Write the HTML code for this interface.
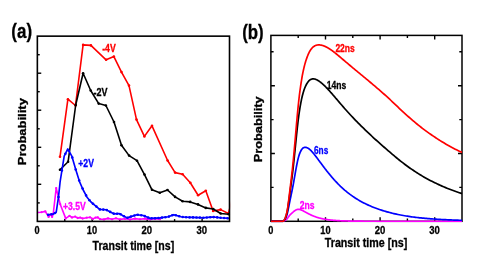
<!DOCTYPE html>
<html><head><meta charset="utf-8"><title>Transit time probability</title>
<style>html,body{margin:0;padding:0;background:#fff;}svg{display:block;}text{font-family:"Liberation Sans",sans-serif;font-weight:bold;stroke-width:0.3px;}</style>
</head><body>
<svg style="will-change:transform" width="491" height="273" viewBox="0 0 491 273">
<rect x="0" y="0" width="491" height="273" fill="#ffffff"/>
<defs>
<clipPath id="ca"><rect x="37.35" y="36.15" width="192.75" height="185.25"/></clipPath>
<clipPath id="cb"><rect x="270.9" y="35.4" width="191.70000000000002" height="186.9"/></clipPath>
</defs>
<g id="panel-a">
<g stroke="#000" fill="none">
<path d="M37.35,54.7 h2.4" stroke-width="1.4" stroke-linecap="butt"/>
<path d="M37.35,73.2 h3.9" stroke-width="1.4" stroke-linecap="butt"/>
<path d="M37.35,91.7 h2.4" stroke-width="1.4" stroke-linecap="butt"/>
<path d="M37.35,110.2 h3.9" stroke-width="1.4" stroke-linecap="butt"/>
<path d="M37.35,128.8 h2.4" stroke-width="1.4" stroke-linecap="butt"/>
<path d="M37.35,147.3 h3.9" stroke-width="1.4" stroke-linecap="butt"/>
<path d="M37.35,165.8 h2.4" stroke-width="1.4" stroke-linecap="butt"/>
<path d="M37.35,184.3 h3.9" stroke-width="1.4" stroke-linecap="butt"/>
<path d="M37.35,202.9 h2.4" stroke-width="1.4" stroke-linecap="butt"/>
<path d="M64.8,221.4 v-2.3" stroke-width="1.4" stroke-linecap="butt"/>
<path d="M92.2,221.4 v-3.2" stroke-width="1.4" stroke-linecap="butt"/>
<path d="M119.7,221.4 v-2.3" stroke-width="1.4" stroke-linecap="butt"/>
<path d="M147.2,221.4 v-3.2" stroke-width="1.4" stroke-linecap="butt"/>
<path d="M174.6,221.4 v-2.3" stroke-width="1.4" stroke-linecap="butt"/>
<path d="M202.1,221.4 v-3.2" stroke-width="1.4" stroke-linecap="butt"/>
</g>
<g clip-path="url(#ca)" fill="none" stroke-linejoin="round" stroke-linecap="round">
<path d="M37.30,212.50 L41.50,212.20 L45.30,211.40 L48.60,216.90 L50.50,214.30 L52.10,216.90 L53.20,214.00 L56.20,188.10 L60.20,204.20 L65.70,218.40 L69.50,215.80 L72.00,217.50 L75.20,216.60 L77.70,218.00 L80.20,217.60 L82.60,218.50 L86.70,217.70 L90.00,217.30 L93.00,218.90 L95.50,217.60 L97.80,217.40 L100.00,219.20 L104.00,219.40 L108.00,218.40 L112.00,219.30 L116.00,218.30 L120.00,219.40 L125.00,218.70 L130.00,219.50 L135.00,218.60 L140.00,219.30 L145.00,218.60 L150.00,219.40 L155.00,218.80 L160.00,219.30" stroke="#ff00ff" stroke-width="1.6"/>
<circle cx="37.3" cy="212.5" r="1.15" fill="#ff00ff"/><circle cx="41.5" cy="212.2" r="1.15" fill="#ff00ff"/><circle cx="45.3" cy="211.4" r="1.15" fill="#ff00ff"/><circle cx="48.6" cy="216.9" r="1.15" fill="#ff00ff"/><circle cx="50.5" cy="214.3" r="1.15" fill="#ff00ff"/><circle cx="52.1" cy="216.9" r="1.15" fill="#ff00ff"/><circle cx="53.2" cy="214.0" r="1.15" fill="#ff00ff"/><circle cx="56.2" cy="188.1" r="1.15" fill="#ff00ff"/><circle cx="60.2" cy="204.2" r="1.15" fill="#ff00ff"/><circle cx="65.7" cy="218.4" r="1.15" fill="#ff00ff"/><circle cx="69.5" cy="215.8" r="1.15" fill="#ff00ff"/><circle cx="72.0" cy="217.5" r="1.15" fill="#ff00ff"/><circle cx="75.2" cy="216.6" r="1.15" fill="#ff00ff"/><circle cx="77.7" cy="218.0" r="1.15" fill="#ff00ff"/><circle cx="80.2" cy="217.6" r="1.15" fill="#ff00ff"/><circle cx="82.6" cy="218.5" r="1.15" fill="#ff00ff"/><circle cx="86.7" cy="217.7" r="1.15" fill="#ff00ff"/><circle cx="90.0" cy="217.3" r="1.15" fill="#ff00ff"/><circle cx="93.0" cy="218.9" r="1.15" fill="#ff00ff"/><circle cx="95.5" cy="217.6" r="1.15" fill="#ff00ff"/><circle cx="97.8" cy="217.4" r="1.15" fill="#ff00ff"/><circle cx="100.0" cy="219.2" r="1.15" fill="#ff00ff"/><circle cx="104.0" cy="219.4" r="1.15" fill="#ff00ff"/><circle cx="108.0" cy="218.4" r="1.15" fill="#ff00ff"/><circle cx="112.0" cy="219.3" r="1.15" fill="#ff00ff"/><circle cx="116.0" cy="218.3" r="1.15" fill="#ff00ff"/><circle cx="120.0" cy="219.4" r="1.15" fill="#ff00ff"/><circle cx="125.0" cy="218.7" r="1.15" fill="#ff00ff"/><circle cx="130.0" cy="219.5" r="1.15" fill="#ff00ff"/><circle cx="135.0" cy="218.6" r="1.15" fill="#ff00ff"/><circle cx="140.0" cy="219.3" r="1.15" fill="#ff00ff"/><circle cx="145.0" cy="218.6" r="1.15" fill="#ff00ff"/><circle cx="150.0" cy="219.4" r="1.15" fill="#ff00ff"/><circle cx="155.0" cy="218.8" r="1.15" fill="#ff00ff"/><circle cx="160.0" cy="219.3" r="1.15" fill="#ff00ff"/>
<path d="M60.00,156.80 L67.90,99.20 L75.50,105.50 L83.10,44.90 L90.90,45.40 L106.10,59.80 L113.90,56.60 L121.50,72.10 L129.00,85.60 L136.50,119.60 L144.40,136.40 L152.00,125.80 L167.60,160.50 L175.10,172.60 L182.60,174.30 L190.30,182.80 L198.10,195.20 L205.80,190.80 L213.10,211.00 L220.60,209.60 L228.40,213.50 L236.00,185.00" stroke="#ff0000" stroke-width="1.6"/>
<circle cx="60.0" cy="156.8" r="1.3" fill="#ff0000"/><circle cx="67.9" cy="99.2" r="1.3" fill="#ff0000"/><circle cx="75.5" cy="105.5" r="1.3" fill="#ff0000"/><circle cx="83.1" cy="44.9" r="1.3" fill="#ff0000"/><circle cx="90.9" cy="45.4" r="1.3" fill="#ff0000"/><circle cx="106.1" cy="59.8" r="1.3" fill="#ff0000"/><circle cx="113.9" cy="56.6" r="1.3" fill="#ff0000"/><circle cx="121.5" cy="72.1" r="1.3" fill="#ff0000"/><circle cx="129.0" cy="85.6" r="1.3" fill="#ff0000"/><circle cx="136.5" cy="119.6" r="1.3" fill="#ff0000"/><circle cx="144.4" cy="136.4" r="1.3" fill="#ff0000"/><circle cx="152.0" cy="125.8" r="1.3" fill="#ff0000"/><circle cx="167.6" cy="160.5" r="1.3" fill="#ff0000"/><circle cx="175.1" cy="172.6" r="1.3" fill="#ff0000"/><circle cx="182.6" cy="174.3" r="1.3" fill="#ff0000"/><circle cx="190.3" cy="182.8" r="1.3" fill="#ff0000"/><circle cx="198.1" cy="195.2" r="1.3" fill="#ff0000"/><circle cx="205.8" cy="190.8" r="1.3" fill="#ff0000"/><circle cx="213.1" cy="211.0" r="1.3" fill="#ff0000"/><circle cx="220.6" cy="209.6" r="1.3" fill="#ff0000"/><circle cx="228.4" cy="213.5" r="1.3" fill="#ff0000"/><circle cx="236.0" cy="185.0" r="1.3" fill="#ff0000"/>
<path d="M60.00,169.80 L68.10,161.80 L75.70,105.00 L83.10,73.20 L90.70,90.50 L98.70,103.60 L105.90,105.50 L114.00,122.00 L121.50,145.20 L129.10,155.60 L137.00,160.70 L144.50,174.60 L152.00,189.80 L159.80,192.80 L167.50,190.00 L175.10,196.90 L182.60,201.30 L190.20,201.90 L198.00,204.40 L205.80,207.90 L213.20,209.00 L220.70,213.50 L228.70,214.30" stroke="#000000" stroke-width="1.6"/>
<circle cx="60.0" cy="169.8" r="1.3" fill="#000000"/><circle cx="68.1" cy="161.8" r="1.3" fill="#000000"/><circle cx="75.7" cy="105.0" r="1.3" fill="#000000"/><circle cx="83.1" cy="73.2" r="1.3" fill="#000000"/><circle cx="90.7" cy="90.5" r="1.3" fill="#000000"/><circle cx="98.7" cy="103.6" r="1.3" fill="#000000"/><circle cx="105.9" cy="105.5" r="1.3" fill="#000000"/><circle cx="114.0" cy="122.0" r="1.3" fill="#000000"/><circle cx="121.5" cy="145.2" r="1.3" fill="#000000"/><circle cx="129.1" cy="155.6" r="1.3" fill="#000000"/><circle cx="137.0" cy="160.7" r="1.3" fill="#000000"/><circle cx="144.5" cy="174.6" r="1.3" fill="#000000"/><circle cx="152.0" cy="189.8" r="1.3" fill="#000000"/><circle cx="159.8" cy="192.8" r="1.3" fill="#000000"/><circle cx="167.5" cy="190.0" r="1.3" fill="#000000"/><circle cx="175.1" cy="196.9" r="1.3" fill="#000000"/><circle cx="182.6" cy="201.3" r="1.3" fill="#000000"/><circle cx="190.2" cy="201.9" r="1.3" fill="#000000"/><circle cx="198.0" cy="204.4" r="1.3" fill="#000000"/><circle cx="205.8" cy="207.9" r="1.3" fill="#000000"/><circle cx="213.2" cy="209.0" r="1.3" fill="#000000"/><circle cx="220.7" cy="213.5" r="1.3" fill="#000000"/><circle cx="228.7" cy="214.3" r="1.3" fill="#000000"/>
<path d="M48.10,214.70 L52.90,214.20 L56.20,212.30 L58.60,196.10 L60.10,181.80 L64.20,156.10 L67.80,148.90 L71.80,156.10 L75.80,169.80 L79.50,181.60 L83.20,190.00 L87.00,197.20 L91.00,202.00 L94.60,205.10 L99.70,209.40 L106.10,209.80 L114.20,213.90 L119.00,213.50 L127.10,217.90 L136.80,214.70 L143.20,215.50 L150.50,218.40 L160.00,217.90 L168.20,216.80 L173.80,214.70 L177.50,215.70 L181.00,216.80 L186.00,217.30 L192.40,217.40 L198.00,217.60 L203.70,217.70 L208.00,217.40 L212.30,217.00 L216.00,217.30 L220.00,217.70 L224.00,218.00 L228.50,218.40" stroke="#0000ff" stroke-width="1.65"/>
<circle cx="48.1" cy="214.7" r="1.3" fill="#0000ff"/><circle cx="51.6" cy="214.3" r="1.3" fill="#0000ff"/><circle cx="55.0" cy="213.0" r="1.3" fill="#0000ff"/><circle cx="58.5" cy="197.1" r="1.3" fill="#0000ff"/><circle cx="61.9" cy="170.5" r="1.3" fill="#0000ff"/><circle cx="65.4" cy="153.8" r="1.3" fill="#0000ff"/><circle cx="68.8" cy="150.7" r="1.3" fill="#0000ff"/><circle cx="72.3" cy="157.6" r="1.3" fill="#0000ff"/><circle cx="75.7" cy="169.5" r="1.3" fill="#0000ff"/><circle cx="79.2" cy="180.5" r="1.3" fill="#0000ff"/><circle cx="82.6" cy="188.6" r="1.3" fill="#0000ff"/><circle cx="86.1" cy="195.4" r="1.3" fill="#0000ff"/><circle cx="89.5" cy="200.2" r="1.3" fill="#0000ff"/><circle cx="93.0" cy="203.7" r="1.3" fill="#0000ff"/><circle cx="96.4" cy="206.6" r="1.3" fill="#0000ff"/><circle cx="99.9" cy="209.4" r="1.3" fill="#0000ff"/><circle cx="103.3" cy="209.6" r="1.3" fill="#0000ff"/><circle cx="106.8" cy="210.1" r="1.3" fill="#0000ff"/><circle cx="110.2" cy="211.9" r="1.3" fill="#0000ff"/><circle cx="113.7" cy="213.6" r="1.3" fill="#0000ff"/><circle cx="117.1" cy="213.7" r="1.3" fill="#0000ff"/><circle cx="120.6" cy="214.3" r="1.3" fill="#0000ff"/><circle cx="124.0" cy="216.2" r="1.3" fill="#0000ff"/><circle cx="127.5" cy="217.8" r="1.3" fill="#0000ff"/><circle cx="130.9" cy="216.6" r="1.3" fill="#0000ff"/><circle cx="134.4" cy="215.5" r="1.3" fill="#0000ff"/><circle cx="137.8" cy="214.8" r="1.3" fill="#0000ff"/><circle cx="141.3" cy="215.3" r="1.3" fill="#0000ff"/><circle cx="144.7" cy="216.1" r="1.3" fill="#0000ff"/><circle cx="148.2" cy="217.5" r="1.3" fill="#0000ff"/><circle cx="151.6" cy="218.3" r="1.3" fill="#0000ff"/><circle cx="155.1" cy="218.2" r="1.3" fill="#0000ff"/><circle cx="158.5" cy="218.0" r="1.3" fill="#0000ff"/><circle cx="162.0" cy="217.6" r="1.3" fill="#0000ff"/><circle cx="165.4" cy="217.2" r="1.3" fill="#0000ff"/><circle cx="168.9" cy="216.6" r="1.3" fill="#0000ff"/><circle cx="172.3" cy="215.3" r="1.3" fill="#0000ff"/><circle cx="175.8" cy="215.2" r="1.3" fill="#0000ff"/><circle cx="179.2" cy="216.2" r="1.3" fill="#0000ff"/><circle cx="182.7" cy="217.0" r="1.3" fill="#0000ff"/><circle cx="186.1" cy="217.3" r="1.3" fill="#0000ff"/><circle cx="189.6" cy="217.4" r="1.3" fill="#0000ff"/><circle cx="193.0" cy="217.4" r="1.3" fill="#0000ff"/><circle cx="196.5" cy="217.5" r="1.3" fill="#0000ff"/><circle cx="199.9" cy="217.6" r="1.3" fill="#0000ff"/><circle cx="203.4" cy="217.7" r="1.3" fill="#0000ff"/><circle cx="206.8" cy="217.5" r="1.3" fill="#0000ff"/><circle cx="210.3" cy="217.2" r="1.3" fill="#0000ff"/><circle cx="213.7" cy="217.1" r="1.3" fill="#0000ff"/><circle cx="217.2" cy="217.4" r="1.3" fill="#0000ff"/><circle cx="220.6" cy="217.7" r="1.3" fill="#0000ff"/><circle cx="224.1" cy="218.0" r="1.3" fill="#0000ff"/><circle cx="227.5" cy="218.3" r="1.3" fill="#0000ff"/>
</g>
<rect x="37.35" y="36.15" width="192.15" height="185.25" stroke="#000" fill="none" stroke-width="1.6"/>
<text stroke="#000" x="37.1" y="234.2" font-size="10.9" text-anchor="middle" textLength="5.1" lengthAdjust="spacingAndGlyphs">0</text>
<text stroke="#000" x="92.0" y="234.2" font-size="10.9" text-anchor="middle" textLength="10.3" lengthAdjust="spacingAndGlyphs">10</text>
<text stroke="#000" x="146.8" y="234.2" font-size="10.9" text-anchor="middle" textLength="10.6" lengthAdjust="spacingAndGlyphs">20</text>
<text stroke="#000" x="201.8" y="234.2" font-size="10.9" text-anchor="middle" textLength="10.6" lengthAdjust="spacingAndGlyphs">30</text>
<text stroke="#000" x="92.6" y="249.8" font-size="12.4" textLength="81.6" lengthAdjust="spacingAndGlyphs">Transit time [ns]</text>
<text stroke="#000" transform="translate(25.5,165.2) rotate(-90) scale(1.3,1)" font-size="10" x="0" y="0">Probability</text>
<text stroke="#000" x="11.3" y="37.8" font-size="20.3" textLength="20.8" lengthAdjust="spacingAndGlyphs">(a)</text>
<text x="102.2" y="52" font-size="10.2" fill="#ff0000" stroke="#ff0000" textLength="13.5" lengthAdjust="spacingAndGlyphs">-4V</text>
<text x="93.6" y="95.9" font-size="10.2" fill="#000000" stroke="#000000" textLength="14.0" lengthAdjust="spacingAndGlyphs">-2V</text>
<text x="78.3" y="166.8" font-size="10.2" fill="#0000ff" stroke="#0000ff" textLength="15.6" lengthAdjust="spacingAndGlyphs">+2V</text>
<text x="62.9" y="209.6" font-size="10.2" fill="#ff00ff" stroke="#ff00ff" textLength="22.8" lengthAdjust="spacingAndGlyphs">+3.5V</text>
</g>
<g id="panel-b">
<g stroke="#000" fill="none" stroke-linecap="square">
<rect x="270.9" y="35.4" width="191.10000000000002" height="185.9" stroke-width="1.5"/>
<path d="M298.2,221.3 v-2.7 M298.2,35.4 v2.7" stroke-width="1.4" stroke-linecap="butt"/>
<path d="M325.5,221.3 v-4.0 M325.5,35.4 v4.0" stroke-width="1.4" stroke-linecap="butt"/>
<path d="M352.8,221.3 v-2.7 M352.8,35.4 v2.7" stroke-width="1.4" stroke-linecap="butt"/>
<path d="M380.1,221.3 v-4.0 M380.1,35.4 v4.0" stroke-width="1.4" stroke-linecap="butt"/>
<path d="M407.4,221.3 v-2.7 M407.4,35.4 v2.7" stroke-width="1.4" stroke-linecap="butt"/>
<path d="M434.7,221.3 v-4.0 M434.7,35.4 v4.0" stroke-width="1.4" stroke-linecap="butt"/>
<path d="M270.9,187.4 h2.7 M462.0,187.4 h-2.7" stroke-width="1.4" stroke-linecap="butt"/>
<path d="M270.9,153.5 h4.0 M462.0,153.5 h-4.0" stroke-width="1.4" stroke-linecap="butt"/>
<path d="M270.9,119.6 h2.7 M462.0,119.6 h-2.7" stroke-width="1.4" stroke-linecap="butt"/>
<path d="M270.9,85.7 h4.0 M462.0,85.7 h-4.0" stroke-width="1.4" stroke-linecap="butt"/>
<path d="M270.9,51.8 h2.7 M462.0,51.8 h-2.7" stroke-width="1.4" stroke-linecap="butt"/>
</g>
<g clip-path="url(#cb)" fill="none" stroke-linejoin="round" stroke-linecap="butt">
<path d="M270.90,221.30 L273.63,221.30 L276.36,221.30 L279.09,221.30 L281.82,221.30 L282.91,221.30 L283.19,221.27 L283.46,221.20 L283.73,221.09 L284.00,220.97 L284.28,220.84 L284.55,220.71 L284.82,220.57 L285.10,220.40 L285.37,220.22 L285.64,220.02 L285.91,219.81 L286.19,219.58 L286.46,219.35 L286.73,219.10 L287.01,218.85 L287.28,218.54 L287.55,218.17 L287.83,217.78 L288.10,217.38 L288.37,217.00 L288.64,216.64 L288.92,216.27 L289.19,215.90 L289.46,215.53 L289.74,215.18 L290.01,214.85 L290.28,214.55 L290.56,214.28 L290.83,214.01 L291.10,213.76 L291.37,213.52 L291.65,213.28 L291.92,213.04 L292.19,212.80 L292.47,212.57 L292.74,212.35 L293.01,212.13 L293.29,211.91 L293.56,211.68 L293.83,211.46 L294.10,211.24 L294.38,211.03 L294.65,210.82 L294.92,210.63 L295.20,210.45 L295.47,210.28 L295.74,210.12 L296.02,209.97 L296.29,209.83 L296.56,209.71 L296.83,209.61 L297.11,209.53 L297.38,209.45 L297.65,209.40 L297.93,209.36 L298.20,209.34 L298.47,209.33 L298.75,209.34 L299.02,209.37 L299.29,209.41 L299.56,209.46 L299.84,209.53 L300.11,209.60 L300.38,209.69 L300.66,209.78 L300.93,209.88 L301.20,209.98 L301.48,210.09 L301.75,210.21 L302.02,210.33 L302.29,210.45 L302.57,210.58 L302.84,210.72 L303.11,210.86 L303.39,211.00 L303.66,211.14 L303.93,211.29 L304.21,211.44 L304.48,211.58 L304.75,211.73 L305.02,211.88 L305.30,212.03 L305.57,212.18 L305.84,212.33 L306.12,212.48 L306.39,212.63 L306.66,212.78 L306.94,212.93 L307.21,213.07 L307.48,213.22 L307.75,213.36 L308.03,213.50 L308.30,213.65 L308.57,213.79 L308.85,213.93 L309.12,214.06 L309.39,214.20 L309.67,214.33 L309.94,214.47 L310.21,214.60 L310.48,214.73 L310.76,214.86 L311.03,214.99 L311.30,215.11 L311.58,215.23 L311.85,215.36 L312.12,215.48 L312.40,215.59 L312.67,215.71 L312.94,215.82 L313.21,215.94 L313.49,216.05 L313.76,216.16 L314.03,216.26 L314.31,216.37 L314.58,216.47 L314.85,216.57 L315.13,216.67 L315.40,216.77 L315.67,216.87 L315.94,216.96 L316.22,217.05 L316.49,217.15 L316.76,217.23 L317.04,217.32 L317.31,217.41 L317.58,217.49 L317.86,217.58 L318.13,217.66 L318.40,217.74 L318.67,217.81 L318.95,217.89 L319.22,217.96 L319.49,218.04 L319.77,218.11 L320.04,218.18 L320.31,218.25 L320.59,218.32 L320.86,218.38 L321.13,218.45 L321.40,218.51 L321.68,218.57 L321.95,218.63 L322.22,218.69 L322.50,218.75 L322.77,218.81 L323.04,218.86 L323.32,218.92 L323.59,218.97 L323.86,219.02 L324.13,219.07 L324.41,219.12 L324.68,219.17 L324.95,219.22 L325.23,219.27 L325.50,219.31 L325.77,219.36 L326.05,219.40 L326.32,219.45 L326.59,219.49 L326.86,219.53 L327.14,219.57 L327.41,219.61 L327.68,219.65 L327.96,219.68 L328.23,219.72 L328.50,219.76 L328.78,219.79 L329.05,219.83 L329.32,219.86 L329.59,219.89 L329.87,219.93 L330.14,219.96 L330.41,219.99 L330.69,220.02 L330.96,220.05 L331.23,220.08 L331.51,220.10 L331.78,220.13 L332.05,220.16 L332.32,220.18 L332.60,220.21 L332.87,220.24 L333.14,220.26 L333.42,220.28 L333.69,220.31 L333.96,220.33 L334.24,220.35 L334.51,220.37 L334.78,220.40 L335.05,220.42 L335.33,220.44 L335.60,220.46 L335.87,220.48 L336.15,220.50 L336.42,220.51 L337.78,220.60 L339.15,220.68 L340.51,220.75 L341.88,220.81 L343.25,220.86 L344.61,220.91 L345.98,220.96 L347.34,220.99 L348.70,221.03 L350.07,221.06 L351.44,221.08 L352.80,221.11 L354.16,221.13 L355.53,221.15 L356.89,221.17 L358.26,221.18 L359.62,221.19 L360.99,221.21 L362.36,221.22 L363.72,221.23 L365.08,221.23 L366.45,221.24 L367.81,221.25 L369.18,221.25 L370.54,221.26 L371.91,221.26 L373.27,221.27 L374.64,221.27 L376.00,221.27 L377.37,221.28 L378.74,221.28 L380.10,221.28 L381.46,221.28 L382.83,221.29 L384.19,221.29 L385.56,221.29 L386.93,221.29 L388.29,221.29 L389.65,221.29 L391.02,221.29 L392.38,221.29 L393.75,221.29 L395.12,221.30 L396.48,221.30 L397.85,221.30 L399.21,221.30 L400.57,221.30 L401.94,221.30 L403.31,221.30 L404.67,221.30 L406.03,221.30 L407.40,221.30 L408.76,221.30 L410.13,221.30 L411.50,221.30 L412.86,221.30 L414.23,221.30 L415.59,221.30 L416.96,221.30 L418.32,221.30 L419.69,221.30 L421.05,221.30 L422.41,221.30 L423.78,221.30 L425.14,221.30 L426.51,221.30 L427.88,221.30 L429.24,221.30 L430.61,221.30 L431.97,221.30 L433.34,221.30 L434.70,221.30 L436.06,221.30 L437.43,221.30 L438.80,221.30 L440.16,221.30 L441.52,221.30 L442.89,221.30 L444.25,221.30 L445.62,221.30 L446.99,221.30 L448.35,221.30 L449.72,221.30 L451.08,221.30 L452.44,221.30 L453.81,221.30 L455.18,221.30 L456.54,221.30 L457.90,221.30 L459.27,221.30 L460.63,221.30 L462.00,221.30" stroke="#ff00ff" stroke-width="1.7"/>
<path d="M270.90,221.30 L273.63,221.30 L276.36,221.30 L279.09,221.30 L281.82,221.30 L282.91,221.30 L283.19,221.24 L283.46,221.08 L283.73,220.84 L284.00,220.55 L284.28,220.23 L284.55,219.91 L284.82,219.55 L285.10,219.12 L285.37,218.63 L285.64,218.08 L285.91,217.49 L286.19,216.84 L286.46,216.15 L286.73,215.42 L287.01,214.63 L287.28,213.66 L287.55,212.51 L287.83,211.25 L288.10,209.93 L288.37,208.62 L288.64,207.33 L288.92,205.98 L289.19,204.58 L289.46,203.16 L289.74,201.74 L290.01,200.36 L290.28,199.03 L290.56,197.73 L290.83,196.46 L291.10,195.19 L291.37,193.90 L291.65,192.59 L291.92,191.26 L292.19,189.91 L292.47,188.55 L292.74,187.16 L293.01,185.75 L293.29,184.29 L293.56,182.80 L293.83,181.27 L294.10,179.71 L294.38,178.14 L294.65,176.58 L294.92,175.03 L295.20,173.47 L295.47,171.93 L295.74,170.40 L296.02,168.89 L296.29,167.41 L296.56,165.97 L296.83,164.57 L297.11,163.23 L297.38,161.93 L297.65,160.69 L297.93,159.51 L298.20,158.39 L298.47,157.35 L298.75,156.37 L299.02,155.46 L299.29,154.62 L299.56,153.84 L299.84,153.12 L300.11,152.45 L300.38,151.84 L300.66,151.28 L300.93,150.75 L301.20,150.27 L301.48,149.82 L301.75,149.42 L302.02,149.05 L302.29,148.72 L302.57,148.43 L302.84,148.18 L303.11,147.98 L303.39,147.81 L303.66,147.67 L303.93,147.55 L304.21,147.45 L304.48,147.38 L304.75,147.33 L305.02,147.30 L305.30,147.30 L305.57,147.32 L305.84,147.35 L306.12,147.41 L306.39,147.49 L306.66,147.58 L306.94,147.68 L307.21,147.80 L307.48,147.93 L307.75,148.07 L308.03,148.22 L308.30,148.39 L308.57,148.56 L308.85,148.75 L309.12,148.95 L309.39,149.16 L309.67,149.39 L309.94,149.63 L310.21,149.87 L310.48,150.13 L310.76,150.39 L311.03,150.67 L311.30,150.95 L311.58,151.23 L311.85,151.53 L312.12,151.83 L312.40,152.13 L312.67,152.45 L312.94,152.76 L313.21,153.08 L313.49,153.41 L313.76,153.74 L314.03,154.07 L314.31,154.41 L314.58,154.76 L314.85,155.10 L315.13,155.45 L315.40,155.80 L315.67,156.16 L315.94,156.51 L316.22,156.87 L316.49,157.23 L316.76,157.59 L317.04,157.96 L317.31,158.32 L317.58,158.69 L317.86,159.06 L318.13,159.43 L318.40,159.80 L318.67,160.17 L318.95,160.53 L319.22,160.90 L319.49,161.27 L319.77,161.64 L320.04,162.01 L320.31,162.38 L320.59,162.75 L320.86,163.12 L321.13,163.49 L321.40,163.85 L321.68,164.22 L321.95,164.59 L322.22,164.95 L322.50,165.32 L322.77,165.68 L323.04,166.04 L323.32,166.40 L323.59,166.77 L323.86,167.13 L324.13,167.49 L324.41,167.84 L324.68,168.20 L324.95,168.56 L325.23,168.91 L325.50,169.27 L325.77,169.62 L326.05,169.97 L326.32,170.32 L326.59,170.67 L326.86,171.02 L327.14,171.36 L327.41,171.71 L327.68,172.05 L327.96,172.39 L328.23,172.74 L328.50,173.07 L328.78,173.41 L329.05,173.75 L329.32,174.08 L329.59,174.41 L329.87,174.75 L330.14,175.08 L330.41,175.40 L330.69,175.73 L330.96,176.06 L331.23,176.38 L331.51,176.70 L331.78,177.02 L332.05,177.34 L332.32,177.65 L332.60,177.97 L332.87,178.28 L333.14,178.59 L333.42,178.90 L333.69,179.21 L333.96,179.52 L334.24,179.82 L334.51,180.13 L334.78,180.43 L335.05,180.73 L335.33,181.02 L335.60,181.32 L335.87,181.61 L336.15,181.90 L336.42,182.19 L337.78,183.62 L339.15,184.99 L340.51,186.32 L341.88,187.60 L343.25,188.84 L344.61,190.04 L345.98,191.19 L347.34,192.30 L348.70,193.37 L350.07,194.41 L351.44,195.40 L352.80,196.36 L354.16,197.28 L355.53,198.17 L356.89,199.03 L358.26,199.86 L359.62,200.65 L360.99,201.42 L362.36,202.16 L363.72,202.88 L365.08,203.57 L366.45,204.23 L367.81,204.87 L369.18,205.49 L370.54,206.09 L371.91,206.67 L373.27,207.22 L374.64,207.76 L376.00,208.28 L377.37,208.77 L378.74,209.25 L380.10,209.72 L381.46,210.17 L382.83,210.60 L384.19,211.02 L385.56,211.42 L386.93,211.81 L388.29,212.19 L389.65,212.55 L391.02,212.90 L392.38,213.24 L393.75,213.56 L395.12,213.87 L396.48,214.18 L397.85,214.47 L399.21,214.75 L400.57,215.01 L401.94,215.27 L403.31,215.52 L404.67,215.75 L406.03,215.98 L407.40,216.20 L408.76,216.41 L410.13,216.61 L411.50,216.80 L412.86,216.99 L414.23,217.16 L415.59,217.33 L416.96,217.49 L418.32,217.65 L419.69,217.80 L421.05,217.94 L422.41,218.08 L423.78,218.21 L425.14,218.34 L426.51,218.46 L427.88,218.57 L429.24,218.68 L430.61,218.79 L431.97,218.89 L433.34,218.99 L434.70,219.08 L436.06,219.17 L437.43,219.25 L438.80,219.34 L440.16,219.41 L441.52,219.49 L442.89,219.56 L444.25,219.63 L445.62,219.70 L446.99,219.76 L448.35,219.82 L449.72,219.88 L451.08,219.94 L452.44,219.99 L453.81,220.04 L455.18,220.09 L456.54,220.14 L457.90,220.19 L459.27,220.23 L460.63,220.27 L462.00,220.31" stroke="#0000ff" stroke-width="1.7"/>
<path d="M270.90,221.30 L273.63,221.30 L276.36,221.30 L279.09,221.30 L281.82,221.30 L282.91,221.30 L283.19,221.22 L283.46,221.02 L283.73,220.72 L284.00,220.35 L284.28,219.95 L284.55,219.54 L284.82,219.07 L285.10,218.51 L285.37,217.87 L285.64,217.15 L285.91,216.35 L286.19,215.49 L286.46,214.55 L286.73,213.56 L287.01,212.49 L287.28,211.15 L287.55,209.57 L287.83,207.82 L288.10,205.99 L288.37,204.13 L288.64,202.30 L288.92,200.36 L289.19,198.34 L289.46,196.27 L289.74,194.19 L290.01,192.14 L290.28,190.13 L290.56,188.16 L290.83,186.20 L291.10,184.23 L291.37,182.22 L291.65,180.16 L291.92,178.04 L292.19,175.88 L292.47,173.68 L292.74,171.43 L293.01,169.12 L293.29,166.73 L293.56,164.25 L293.83,161.70 L294.10,159.08 L294.38,156.43 L294.65,153.77 L294.92,151.08 L295.20,148.38 L295.47,145.67 L295.74,142.95 L296.02,140.24 L296.29,137.55 L296.56,134.90 L296.83,132.30 L297.11,129.76 L297.38,127.26 L297.65,124.84 L297.93,122.49 L298.20,120.23 L298.47,118.06 L298.75,115.98 L299.02,114.00 L299.29,112.10 L299.56,110.29 L299.84,108.57 L300.11,106.93 L300.38,105.37 L300.66,103.86 L300.93,102.42 L301.20,101.04 L301.48,99.70 L301.75,98.43 L302.02,97.20 L302.29,96.04 L302.57,94.95 L302.84,93.92 L303.11,92.95 L303.39,92.04 L303.66,91.17 L303.93,90.34 L304.21,89.54 L304.48,88.78 L304.75,88.06 L305.02,87.38 L305.30,86.73 L305.57,86.12 L305.84,85.54 L306.12,85.00 L306.39,84.49 L306.66,84.00 L306.94,83.55 L307.21,83.11 L307.48,82.70 L307.75,82.30 L308.03,81.93 L308.30,81.58 L308.57,81.25 L308.85,80.94 L309.12,80.67 L309.39,80.41 L309.67,80.18 L309.94,79.97 L310.21,79.79 L310.48,79.62 L310.76,79.47 L311.03,79.34 L311.30,79.23 L311.58,79.14 L311.85,79.06 L312.12,78.99 L312.40,78.94 L312.67,78.91 L312.94,78.89 L313.21,78.88 L313.49,78.88 L313.76,78.90 L314.03,78.93 L314.31,78.97 L314.58,79.02 L314.85,79.08 L315.13,79.16 L315.40,79.24 L315.67,79.34 L315.94,79.44 L316.22,79.55 L316.49,79.67 L316.76,79.80 L317.04,79.94 L317.31,80.09 L317.58,80.24 L317.86,80.40 L318.13,80.56 L318.40,80.73 L318.67,80.91 L318.95,81.09 L319.22,81.28 L319.49,81.47 L319.77,81.67 L320.04,81.87 L320.31,82.08 L320.59,82.29 L320.86,82.50 L321.13,82.72 L321.40,82.95 L321.68,83.17 L321.95,83.40 L322.22,83.64 L322.50,83.88 L322.77,84.12 L323.04,84.36 L323.32,84.61 L323.59,84.86 L323.86,85.12 L324.13,85.38 L324.41,85.64 L324.68,85.90 L324.95,86.17 L325.23,86.44 L325.50,86.71 L325.77,86.98 L326.05,87.26 L326.32,87.54 L326.59,87.82 L326.86,88.10 L327.14,88.39 L327.41,88.68 L327.68,88.97 L327.96,89.26 L328.23,89.55 L328.50,89.85 L328.78,90.14 L329.05,90.44 L329.32,90.74 L329.59,91.04 L329.87,91.35 L330.14,91.65 L330.41,91.96 L330.69,92.26 L330.96,92.57 L331.23,92.88 L331.51,93.19 L331.78,93.50 L332.05,93.82 L332.32,94.13 L332.60,94.44 L332.87,94.76 L333.14,95.08 L333.42,95.39 L333.69,95.71 L333.96,96.03 L334.24,96.35 L334.51,96.67 L334.78,96.99 L335.05,97.31 L335.33,97.63 L335.60,97.95 L335.87,98.28 L336.15,98.60 L336.42,98.92 L337.78,100.53 L339.15,102.13 L340.51,103.73 L341.88,105.31 L343.25,106.89 L344.61,108.45 L345.98,109.99 L347.34,111.52 L348.70,113.02 L350.07,114.51 L351.44,115.98 L352.80,117.44 L354.16,118.88 L355.53,120.30 L356.89,121.70 L358.26,123.09 L359.62,124.46 L360.99,125.81 L362.36,127.15 L363.72,128.48 L365.08,129.80 L366.45,131.11 L367.81,132.41 L369.18,133.70 L370.54,134.98 L371.91,136.25 L373.27,137.51 L374.64,138.76 L376.00,140.00 L377.37,141.23 L378.74,142.44 L380.10,143.66 L381.46,144.86 L382.83,146.06 L384.19,147.26 L385.56,148.45 L386.93,149.63 L388.29,150.81 L389.65,151.98 L391.02,153.15 L392.38,154.31 L393.75,155.46 L395.12,156.61 L396.48,157.74 L397.85,158.86 L399.21,159.97 L400.57,161.06 L401.94,162.13 L403.31,163.19 L404.67,164.23 L406.03,165.24 L407.40,166.25 L408.76,167.23 L410.13,168.19 L411.50,169.14 L412.86,170.07 L414.23,170.99 L415.59,171.88 L416.96,172.76 L418.32,173.63 L419.69,174.47 L421.05,175.30 L422.41,176.11 L423.78,176.91 L425.14,177.69 L426.51,178.45 L427.88,179.20 L429.24,179.93 L430.61,180.64 L431.97,181.34 L433.34,182.03 L434.70,182.70 L436.06,183.36 L437.43,184.01 L438.80,184.64 L440.16,185.26 L441.52,185.87 L442.89,186.47 L444.25,187.05 L445.62,187.62 L446.99,188.19 L448.35,188.74 L449.72,189.27 L451.08,189.80 L452.44,190.32 L453.81,190.82 L455.18,191.31 L456.54,191.79 L457.90,192.26 L459.27,192.72 L460.63,193.17 L462.00,193.61" stroke="#000000" stroke-width="1.7"/>
<path d="M270.90,221.30 L273.63,221.30 L276.36,221.30 L279.09,221.30 L281.82,221.30 L282.91,221.30 L283.19,221.22 L283.46,221.00 L283.73,220.68 L284.00,220.29 L284.28,219.86 L284.55,219.42 L284.82,218.92 L285.10,218.32 L285.37,217.62 L285.64,216.84 L285.91,215.98 L286.19,215.04 L286.46,214.03 L286.73,212.95 L287.01,211.78 L287.28,210.32 L287.55,208.59 L287.83,206.68 L288.10,204.66 L288.37,202.63 L288.64,200.60 L288.92,198.46 L289.19,196.23 L289.46,193.93 L289.74,191.62 L290.01,189.33 L290.28,187.09 L290.56,184.88 L290.83,182.67 L291.10,180.45 L291.37,178.18 L291.65,175.84 L291.92,173.44 L292.19,170.99 L292.47,168.49 L292.74,165.91 L293.01,163.27 L293.29,160.53 L293.56,157.69 L293.83,154.76 L294.10,151.75 L294.38,148.69 L294.65,145.61 L294.92,142.50 L295.20,139.36 L295.47,136.20 L295.74,133.03 L296.02,129.86 L296.29,126.70 L296.56,123.58 L296.83,120.52 L297.11,117.50 L297.38,114.53 L297.65,111.64 L297.93,108.82 L298.20,106.10 L298.47,103.47 L298.75,100.95 L299.02,98.52 L299.29,96.18 L299.56,93.95 L299.84,91.81 L300.11,89.75 L300.38,87.78 L300.66,85.87 L300.93,84.03 L301.20,82.25 L301.48,80.53 L301.75,78.86 L302.02,77.26 L302.29,75.72 L302.57,74.26 L302.84,72.87 L303.11,71.55 L303.39,70.29 L303.66,69.07 L303.93,67.90 L304.21,66.77 L304.48,65.67 L304.75,64.62 L305.02,63.61 L305.30,62.65 L305.57,61.72 L305.84,60.83 L306.12,59.98 L306.39,59.16 L306.66,58.38 L306.94,57.62 L307.21,56.89 L307.48,56.18 L307.75,55.50 L308.03,54.84 L308.30,54.20 L308.57,53.59 L308.85,53.01 L309.12,52.46 L309.39,51.93 L309.67,51.43 L309.94,50.96 L310.21,50.51 L310.48,50.09 L310.76,49.69 L311.03,49.31 L311.30,48.95 L311.58,48.61 L311.85,48.29 L312.12,47.99 L312.40,47.70 L312.67,47.44 L312.94,47.18 L313.21,46.95 L313.49,46.72 L313.76,46.52 L314.03,46.33 L314.31,46.15 L314.58,45.99 L314.85,45.84 L315.13,45.70 L315.40,45.58 L315.67,45.46 L315.94,45.36 L316.22,45.27 L316.49,45.20 L316.76,45.13 L317.04,45.07 L317.31,45.02 L317.58,44.99 L317.86,44.96 L318.13,44.93 L318.40,44.92 L318.67,44.91 L318.95,44.91 L319.22,44.92 L319.49,44.93 L319.77,44.95 L320.04,44.98 L320.31,45.01 L320.59,45.05 L320.86,45.09 L321.13,45.14 L321.40,45.20 L321.68,45.26 L321.95,45.32 L322.22,45.39 L322.50,45.47 L322.77,45.55 L323.04,45.63 L323.32,45.73 L323.59,45.82 L323.86,45.92 L324.13,46.03 L324.41,46.14 L324.68,46.25 L324.95,46.37 L325.23,46.49 L325.50,46.61 L325.77,46.74 L326.05,46.88 L326.32,47.01 L326.59,47.15 L326.86,47.30 L327.14,47.45 L327.41,47.60 L327.68,47.75 L327.96,47.91 L328.23,48.07 L328.50,48.23 L328.78,48.40 L329.05,48.57 L329.32,48.74 L329.59,48.91 L329.87,49.09 L330.14,49.27 L330.41,49.45 L330.69,49.64 L330.96,49.83 L331.23,50.02 L331.51,50.21 L331.78,50.40 L332.05,50.60 L332.32,50.80 L332.60,51.00 L332.87,51.20 L333.14,51.41 L333.42,51.62 L333.69,51.83 L333.96,52.04 L334.24,52.25 L334.51,52.46 L334.78,52.68 L335.05,52.89 L335.33,53.11 L335.60,53.33 L335.87,53.55 L336.15,53.77 L336.42,53.99 L337.78,55.12 L339.15,56.25 L340.51,57.40 L341.88,58.56 L343.25,59.73 L344.61,60.89 L345.98,62.05 L347.34,63.21 L348.70,64.37 L350.07,65.52 L351.44,66.66 L352.80,67.80 L354.16,68.94 L355.53,70.08 L356.89,71.21 L358.26,72.33 L359.62,73.45 L360.99,74.57 L362.36,75.69 L363.72,76.81 L365.08,77.93 L366.45,79.06 L367.81,80.20 L369.18,81.35 L370.54,82.50 L371.91,83.65 L373.27,84.80 L374.64,85.96 L376.00,87.12 L377.37,88.29 L378.74,89.46 L380.10,90.64 L381.46,91.83 L382.83,93.03 L384.19,94.25 L385.56,95.48 L386.93,96.72 L388.29,97.97 L389.65,99.23 L391.02,100.50 L392.38,101.78 L393.75,103.07 L395.12,104.37 L396.48,105.67 L397.85,106.97 L399.21,108.26 L400.57,109.55 L401.94,110.83 L403.31,112.09 L404.67,113.34 L406.03,114.58 L407.40,115.81 L408.76,117.01 L410.13,118.21 L411.50,119.39 L412.86,120.56 L414.23,121.71 L415.59,122.85 L416.96,123.97 L418.32,125.08 L419.69,126.17 L421.05,127.24 L422.41,128.30 L423.78,129.34 L425.14,130.37 L426.51,131.38 L427.88,132.37 L429.24,133.34 L430.61,134.30 L431.97,135.24 L433.34,136.17 L434.70,137.08 L436.06,137.98 L437.43,138.87 L438.80,139.74 L440.16,140.60 L441.52,141.44 L442.89,142.28 L444.25,143.10 L445.62,143.90 L446.99,144.70 L448.35,145.48 L449.72,146.25 L451.08,147.00 L452.44,147.74 L453.81,148.46 L455.18,149.16 L456.54,149.86 L457.90,150.53 L459.27,151.20 L460.63,151.86 L462.00,152.51" stroke="#ff0000" stroke-width="1.7"/>
</g>
<text stroke="#000" x="270.8" y="233.6" font-size="10.9" text-anchor="middle" textLength="5.1" lengthAdjust="spacingAndGlyphs">0</text>
<text stroke="#000" x="325.4" y="233.6" font-size="10.9" text-anchor="middle" textLength="10.3" lengthAdjust="spacingAndGlyphs">10</text>
<text stroke="#000" x="380.0" y="233.6" font-size="10.9" text-anchor="middle" textLength="10.6" lengthAdjust="spacingAndGlyphs">20</text>
<text stroke="#000" x="434.6" y="233.6" font-size="10.9" text-anchor="middle" textLength="10.6" lengthAdjust="spacingAndGlyphs">30</text>
<text stroke="#000" x="324.8" y="246.8" font-size="12.4" textLength="82.5" lengthAdjust="spacingAndGlyphs">Transit time [ns]</text>
<text stroke="#000" transform="translate(261.8,162.3) rotate(-90) scale(1.278,1)" font-size="10" x="0" y="0">Probability</text>
<text stroke="#000" x="242.2" y="38.7" font-size="19.4" textLength="21.5" lengthAdjust="spacingAndGlyphs">(b)</text>
<text x="335.4" y="51.6" font-size="10.2" fill="#ff0000" stroke="#ff0000" textLength="19.4" lengthAdjust="spacingAndGlyphs">22ns</text>
<text x="326.7" y="88.8" font-size="10.2" fill="#000000" stroke="#000000" textLength="19.5" lengthAdjust="spacingAndGlyphs">14ns</text>
<text x="314.0" y="153.8" font-size="10.2" fill="#0000ff" stroke="#0000ff" textLength="14.3" lengthAdjust="spacingAndGlyphs">6ns</text>
<text x="299.7" y="209.2" font-size="10.2" fill="#ff00ff" stroke="#ff00ff" textLength="14.8" lengthAdjust="spacingAndGlyphs">2ns</text>
</g>
</svg>
</body></html>
